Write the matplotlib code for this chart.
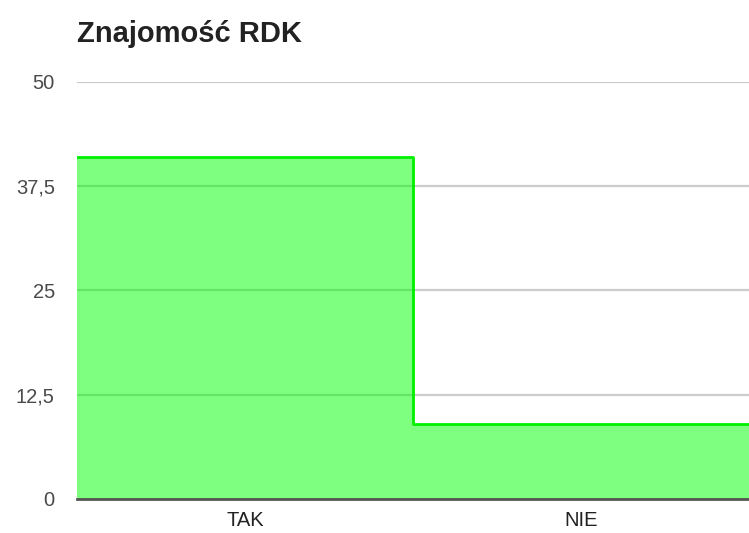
import matplotlib.pyplot as plt
import numpy as np

# data
categories = ["TAK", "NIE"]
values = [41, 9]
yticks = [0, 12.5, 25, 37.5, 50]
ytick_labels = ["0", "12,5", "25", "37,5", "50"]

plt.rcParams['font.family'] = ['Liberation Sans', 'DejaVu Sans']

fig = plt.figure(figsize=(7.49, 5.33), dpi=100)
ax = fig.add_axes([0.1028, 0.0638, 0.8972, 0.7824])

x = np.arange(len(categories))
edges = np.append(x - 0.5, x[-1] + 0.5)
steps = np.append(values, values[-1])

# stepped area, half transparent so the grid shows through
ax.fill_between(edges, steps, step='post', color='#00ff00', alpha=0.5,
                linewidth=0, zorder=2)
ax.step(edges, steps, where='post', color='#00f000', linewidth=2, zorder=3)

ax.set_xlim(edges[0], edges[-1])
ax.set_ylim(0, 50)
ax.set_yticks(yticks)
ax.set_yticklabels(ytick_labels)
ax.set_xticks(x)
ax.set_xticklabels(categories)

ax.grid(axis='y', color='#cccccc', linewidth=1.6, zorder=1)
ax.set_axisbelow(True)
for s in ['top', 'right', 'left']:
    ax.spines[s].set_visible(False)
ax.spines['bottom'].set_color('#555555')
ax.spines['bottom'].set_linewidth(2)
ax.spines['bottom'].set_zorder(4)

ax.tick_params(axis='both', length=0, labelsize=14.5, colors='#4a4a4a')
ax.tick_params(axis='y', pad=16)
ax.tick_params(axis='x', pad=9)
for lbl in ax.get_xticklabels():
    lbl.set_color('#222222')

fig.text(0.1028, 0.922, "Znajomość RDK", fontsize=21, fontweight='bold',
         color='#222222', ha='left', va='baseline')

fig.savefig("out.png", dpi=100)
